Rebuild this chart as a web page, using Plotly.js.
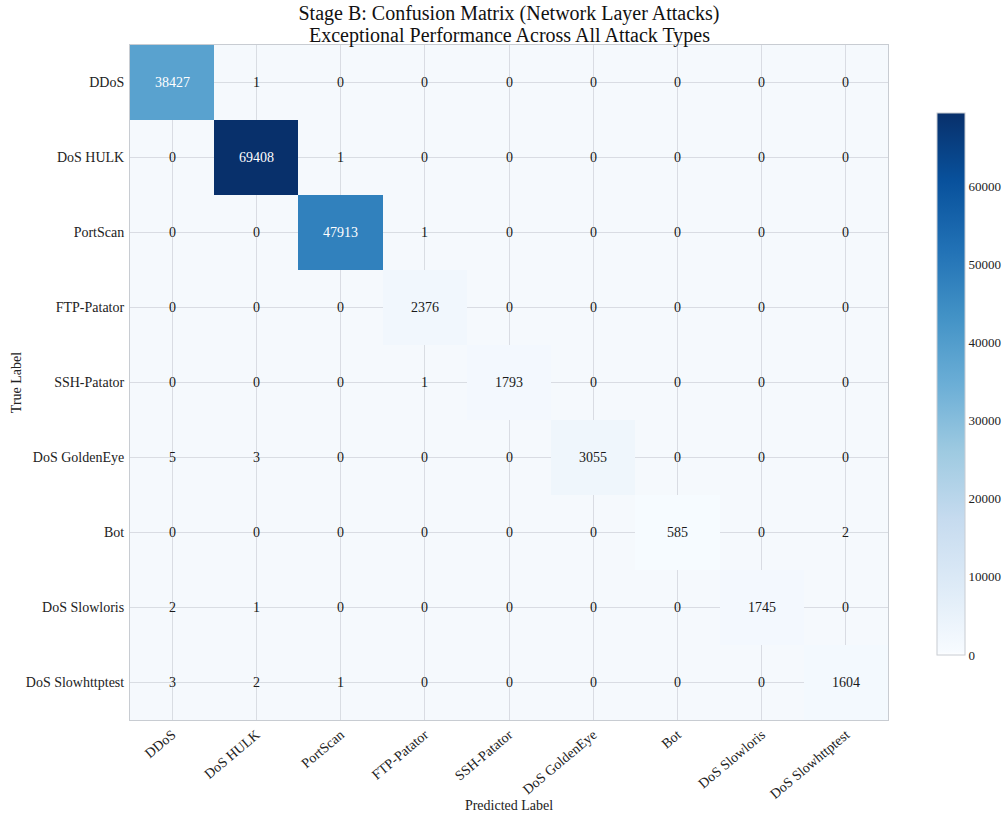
<!DOCTYPE html>
<html>
<head>
<meta charset="utf-8">
<script src="https://cdn.plot.ly/plotly-3.0.1.min.js"></script>
<style>
  html, body { margin: 0; padding: 0; background: #ffffff; }
  #chart { width: 1008px; height: 813px; }
</style>
</head>
<body>
<div id="chart"></div>
<script>
// Class labels (rows = true label, columns = predicted label)
const classes = [
  "DDoS", "DoS HULK", "PortScan", "FTP-Patator", "SSH-Patator",
  "DoS GoldenEye", "Bot", "DoS Slowloris", "DoS Slowhttptest"
];

// Confusion-matrix counts, one array per true class
const rowDDoS        = [38427, 1, 0, 0, 0, 0, 0, 0, 0];
const rowDoSHulk     = [0, 69408, 1, 0, 0, 0, 0, 0, 0];
const rowPortScan    = [0, 0, 47913, 1, 0, 0, 0, 0, 0];
const rowFTPPatator  = [0, 0, 0, 2376, 0, 0, 0, 0, 0];
const rowSSHPatator  = [0, 0, 0, 1, 1793, 0, 0, 0, 0];
const rowGoldenEye   = [5, 3, 0, 0, 0, 3055, 0, 0, 0];
const rowBot         = [0, 0, 0, 0, 0, 0, 585, 0, 2];
const rowSlowloris   = [2, 1, 0, 0, 0, 0, 0, 1745, 0];
const rowSlowhttp    = [3, 2, 1, 0, 0, 0, 0, 0, 1604];

const matrix = [
  rowDDoS, rowDoSHulk, rowPortScan, rowFTPPatator, rowSSHPatator,
  rowGoldenEye, rowBot, rowSlowloris, rowSlowhttp
];

const colorbarTicks = [0, 10000, 20000, 30000, 40000, 50000, 60000];

const titleLine1 = "Stage B: Confusion Matrix (Network Layer Attacks)";
const titleLine2 = "Exceptional Performance Across All Attack Types";

// Sequential blue ramp; the very lightest end is see-through so the
// grid shows behind near-empty cells
const blues = [
  [0.0,   "rgba(247,251,255,0.15)"],
  [0.006, "rgba(247,251,255,1)"],
  [0.125, "#deebf7"],
  [0.25,  "#c6dbef"],
  [0.375, "#9ecae1"],
  [0.5,   "#6baed6"],
  [0.625, "#4292c6"],
  [0.75,  "#2171b5"],
  [0.875, "#08519c"],
  [1.0,   "#08306b"]
];

const zMax = Math.max(...matrix.flat());
const serif = "Liberation Serif, Times New Roman, serif";

const heat = {
  type: "heatmap",
  z: matrix,
  x: classes,
  y: classes,
  zmin: 0,
  zmax: zMax,
  colorscale: blues,
  hoverongaps: false,
  colorbar: {
    xref: "container",
    x: 0.9296,
    xanchor: "left",
    xpad: 0,
    yref: "paper",
    y: 0.4978,
    yanchor: "middle",
    ypad: 0,
    len: 542,
    lenmode: "pixels",
    thickness: 28,
    thicknessmode: "pixels",
    outlinecolor: "#c8ccd2",
    outlinewidth: 1,
    tickmode: "array",
    tickvals: colorbarTicks,
    ticktext: colorbarTicks.map(String),
    ticks: "",
    ticklabelpad: 6,
    tickfont: { family: serif, size: 13, color: "#222222" }
  }
};

// Cell counts written on top of each cell
const annotations = [];
matrix.forEach((row, i) => {
  row.forEach((v, j) => {
    annotations.push({
      x: classes[j],
      y: classes[i],
      xref: "x",
      yref: "y",
      text: String(v),
      showarrow: false,
      font: {
        family: serif,
        size: 14,
        color: v > zMax * 0.5 ? "#ffffff" : (v > zMax * 0.4 ? "#eef4fa" : "#1a1a1a")
      }
    });
  });
});

// Second title line, set tight under the first
annotations.push({
  text: titleLine2,
  xref: "paper",
  yref: "paper",
  x: 0.5,
  y: (720 - 36) / 675,
  xanchor: "center",
  yanchor: "middle",
  showarrow: false,
  font: { family: serif, size: 20, color: "#111111" }
});

const layout = {
  width: 1008,
  height: 813,
  paper_bgcolor: "#ffffff",
  plot_bgcolor: "#f5f9fd",
  margin: { l: 130, r: 120, t: 45, b: 93 },
  title: {
    text: titleLine1,
    font: { family: serif, size: 20, color: "#111111" },
    x: 0.5,
    xref: "paper",
    xanchor: "center",
    y: 1 - 13 / 813,
    yref: "container",
    yanchor: "middle"
  },
  xaxis: {
    type: "category",
    tickangle: -40,
    tickfont: { family: serif, size: 14, color: "#222222" },
    showgrid: true,
    gridcolor: "#d4d8de",
    gridwidth: 1,
    showline: true,
    linecolor: "#c8ccd2",
    linewidth: 1,
    mirror: true,
    ticks: "",
    zeroline: false,
    title: {
      text: "Predicted Label",
      font: { family: serif, size: 14, color: "#222222" },
      standoff: 8
    }
  },
  yaxis: {
    type: "category",
    autorange: "reversed",
    tickfont: { family: serif, size: 14, color: "#222222" },
    showgrid: true,
    gridcolor: "#d4d8de",
    gridwidth: 1,
    showline: true,
    linecolor: "#c8ccd2",
    linewidth: 1,
    mirror: true,
    ticks: "",
    ticklabelstandoff: 2,
    zeroline: false,
    title: {
      text: "True Label",
      font: { family: serif, size: 14, color: "#222222" },
      standoff: 0
    }
  },
  annotations: annotations
};

Plotly.newPlot("chart", [heat], layout, { displayModeBar: false, staticPlot: true });
</script>
</body>
</html>
